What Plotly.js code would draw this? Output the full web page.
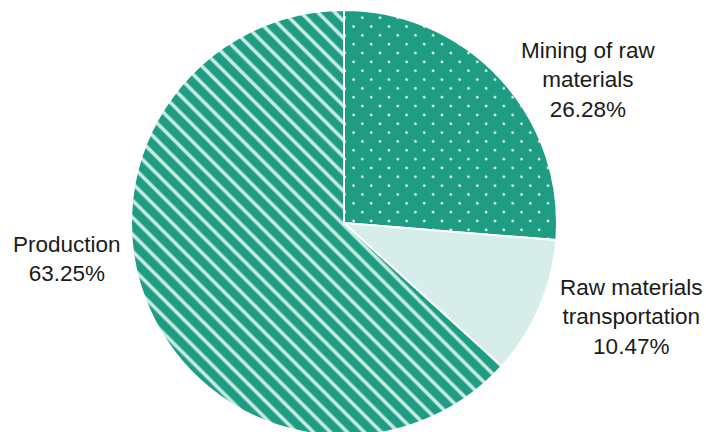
<!DOCTYPE html>
<html>
<head>
<meta charset="utf-8">
<script src="https://cdn.plot.ly/plotly-3.0.1.min.js"></script>
<style>
html, body { margin:0; padding:0; overflow:hidden; background:#fff; width:706px; height:432px; }
#chart { width:706px; height:442px; }
</style>
</head>
<body>
<div id="chart"></div>
<script>
// Data
const categories = ["Mining of raw materials", "Raw materials transportation", "Production"];
const labelText = ["Mining of raw<br>materials", "Raw materials<br>transportation", "Production"];
const shares = [26.28, 10.47, 63.25];

// Styles
const teal = "#1e9d83";
const lightTeal = "#d6edea";
const stripeLight = "#c8ebe4";

const trace = {
  type: "pie",
  labels: categories,
  values: shares,
  sort: false,
  direction: "clockwise",
  rotation: 0,
  textinfo: "none",
  hoverinfo: "none",
  domain: { x: [131/706, 557/706], y: [6/442, 432/442] },
  marker: {
    colors: [teal, lightTeal, teal],
    line: { color: "#ffffff", width: 2 },
    pattern: {
      shape: [".", "", "\\"],
      fgcolor: ["#ffffff", lightTeal, stripeLight],
      bgcolor: [teal, lightTeal, teal],
      size: [12.5, 8, 12],
      solidity: [0.035, 0.3, 0.3],
      fillmode: "replace"
    }
  }
};

const annPos = [
  { x: 588/706, y: 1 - 80/442 },
  { x: 631/706, y: 1 - 317/442 },
  { x: 66.5/706, y: 1 - 259/442 }
];

const annotations = categories.map((c, i) => ({
  xref: "paper", yref: "paper",
  x: annPos[i].x, y: annPos[i].y,
  xanchor: "center", yanchor: "middle",
  text: labelText[i] + "<br>" + shares[i].toFixed(2) + "%",
  showarrow: false,
  align: "center",
  font: { family: "Liberation Sans, Arial, sans-serif", size: 22.5, color: "#1a1a1a" }
}));

const layout = {
  width: 706,
  height: 442,
  margin: { l: 0, r: 0, t: 0, b: 0, pad: 0 },
  paper_bgcolor: "#ffffff",
  showlegend: false,
  hovermode: false,
  annotations: annotations
};

Plotly.newPlot("chart", [trace], layout, { displayModeBar: false, staticPlot: true }).then(() => {
  document.querySelectorAll("pattern").forEach(p => {
    if (p.querySelector("circle")) p.setAttribute("patternTransform", "rotate(45)");
  });
});
</script>
</body>
</html>
